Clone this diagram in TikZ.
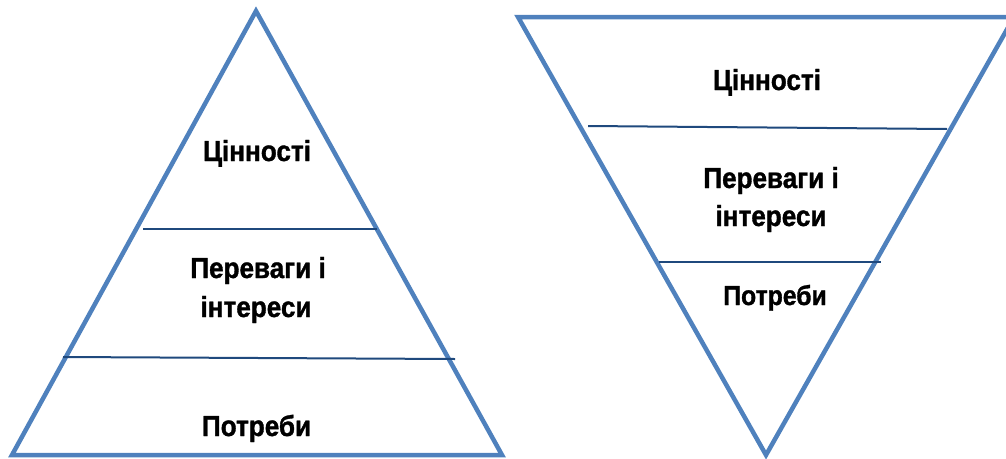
\documentclass[tikz,border=0pt]{standalone}
\usepackage{fontspec}
\setmainfont{Liberation Sans}[FakeStretch=0.9,BoldFeatures={FakeBold=1.2}]
\begin{document}
\begin{tikzpicture}[x=1pt,y=-1pt,
  tri/.style={draw={rgb,255:red,79;green,129;blue,189},line width=4.5pt,line join=miter},
  divider/.style={draw={rgb,255:red,31;green,73;blue,125},line width=2pt},
  lbl/.style={font=\bfseries\fontsize{29}{36}\selectfont,inner sep=0pt,anchor=base}]
\useasboundingbox (0,0) rectangle (1006,458);
\begin{scope}
\clip (0,0) rectangle (1006,458);
% upright pyramid
\coordinate (la) at (256,11);
\coordinate (lb) at (12,455);
\coordinate (lc) at (502,455);
\draw[tri] (la) -- (lb) -- (lc) -- cycle;
\coordinate (l1a) at (143,229);
\coordinate (l1b) at (377,229);
\coordinate (l2a) at (63,357);
\coordinate (l2b) at (455,359);
\draw[divider] (l1a) -- (l1b);
\draw[divider] (l2a) -- (l2b);
% inverted pyramid
\coordinate (ra) at (518,17);
\coordinate (rb) at (1014,17);
\coordinate (rc) at (766,455);
\draw[tri] (ra) -- (rb) -- (rc) -- cycle;
\coordinate (r1a) at (588,126);
\coordinate (r1b) at (947,129);
\coordinate (r2a) at (659,262);
\coordinate (r2b) at (881,262);
\draw[divider] (r1a) -- (r1b);
\draw[divider] (r2a) -- (r2b);
\end{scope}
% labels, upright pyramid
\node[lbl] (lv) at (257,161) {Цінності};
\node[lbl] (lp) at (258,278) {Переваги і};
\node[lbl] (li) at (256,317) {інтереси};
\node[lbl] (ln) at (256.5,436) {Потреби};
% labels, inverted pyramid
\node[lbl] (rv) at (767,90) {Цінності};
\node[lbl] (rp) at (771,188) {Переваги і};
\node[lbl] (ri) at (771,226) {інтереси};
\node[lbl,font=\bfseries\fontsize{27.5}{34}\selectfont] (rn) at (775,305) {Потреби};
\end{tikzpicture}
\end{document}
